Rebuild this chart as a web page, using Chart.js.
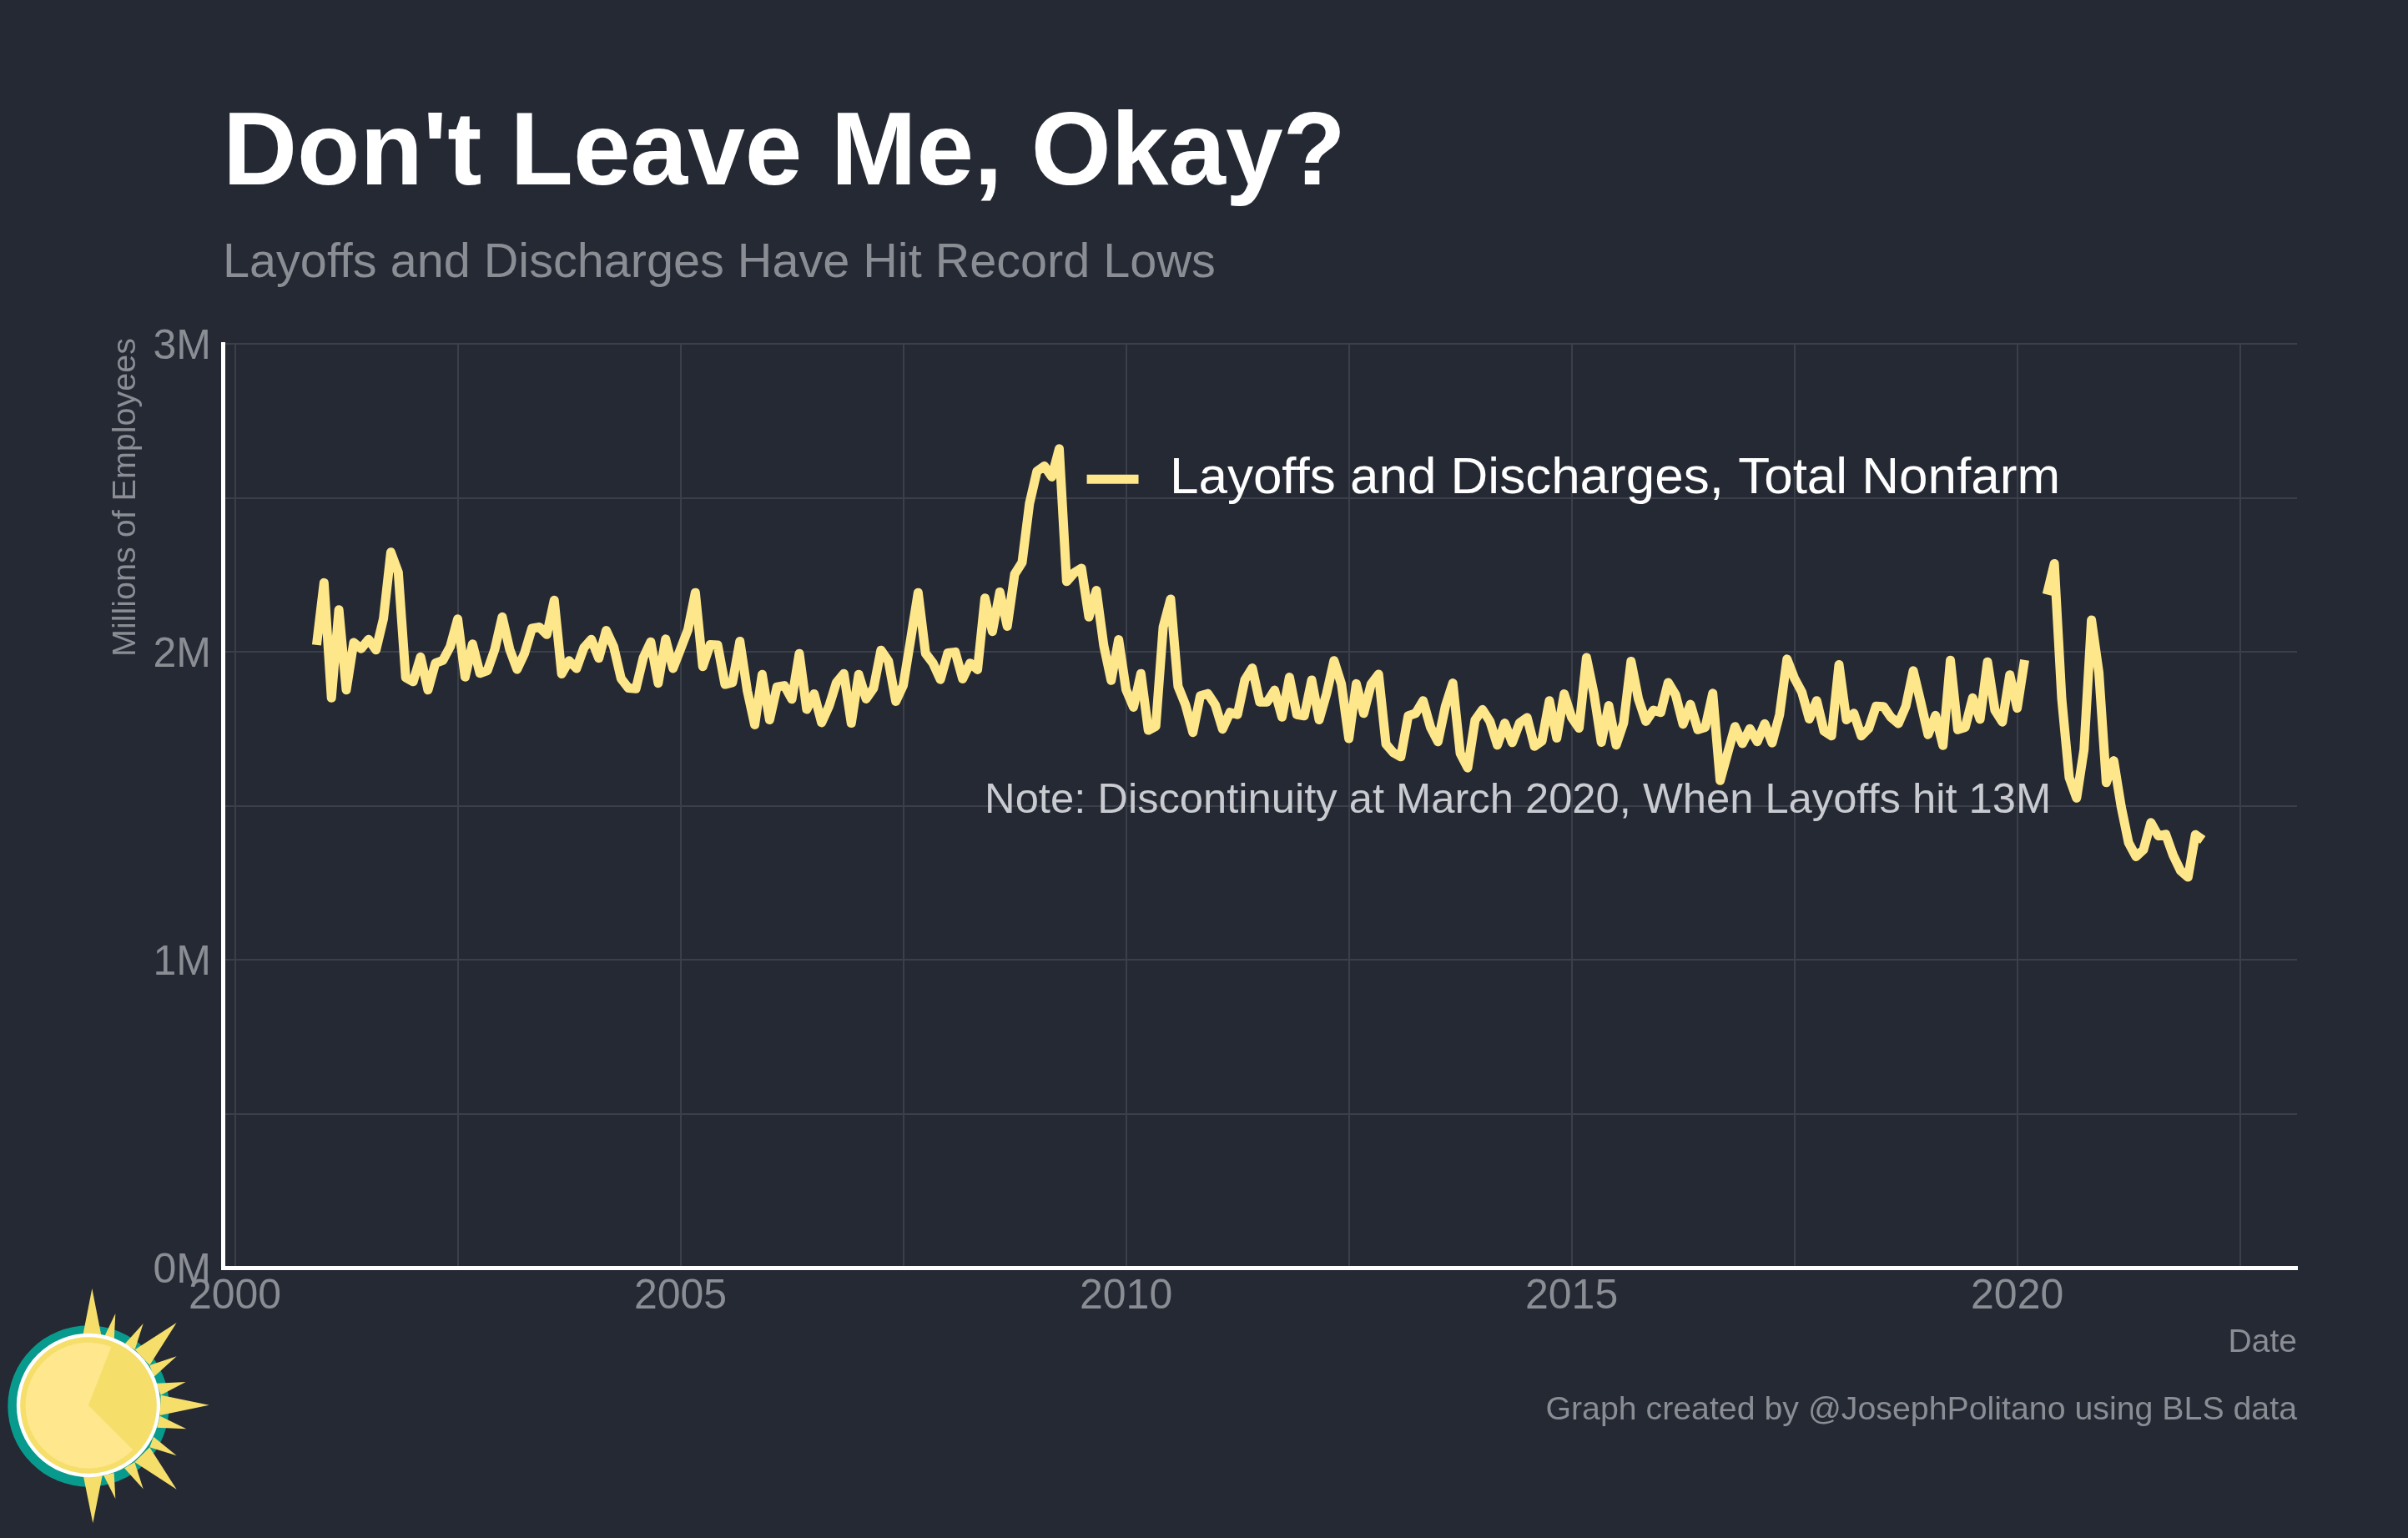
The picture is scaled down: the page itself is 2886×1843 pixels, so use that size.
<!DOCTYPE html>
<html><head><meta charset="utf-8">
<style>html,body{margin:0;padding:0;background:#242933;width:2886px;height:1843px;overflow:hidden}
#c{position:absolute;left:0;top:0}#sun{position:absolute;left:0;top:1480px}</style>
<script src="https://cdn.jsdelivr.net/npm/chart.js@4"></script></head><body>
<canvas id="c" width="2886" height="1843"></canvas>
<svg id="sun" width="400" height="363" viewBox="0 0 1200 1089" xmlns="http://www.w3.org/2000/svg">
<circle cx="318" cy="615" r="290" fill="#089B8D"/>
<g fill="#F5DE6A"><polygon points="331,192 297,365 365,365"/><polygon points="415,282 373,370 410,380"/><polygon points="515,318 448,392 485,412"/><polygon points="635,315 485,412 538,468"/><polygon points="635,436 538,468 553,510"/><polygon points="668,528 563,533 578,575"/><polygon points="752,611 578,575 575,648"/><polygon points="670,697 575,650 565,692"/><polygon points="635,793 552,725 538,763"/><polygon points="635,914 538,763 484,816"/><polygon points="515,913 484,816 447,838"/><polygon points="415,948 410,855 373,865"/><polygon points="334,1036 368,865 300,868"/></g>
<circle cx="318" cy="612" r="252" fill="#F5DE6A" stroke="#fff" stroke-width="13"/>
<path d="M318 612 L478 772 A226 226 0 1 1 400 402 Z" fill="#FEE78C"/>
</svg>
<script>
const startYear = 2000 + 11/12;
const layoffs = [
2.022,2.224,1.850,2.136,1.876,2.030,2.010,2.040,2.006,2.107,2.323,2.258,1.916,1.903,1.983,1.876,1.963,1.972,2.017,2.106,
1.918,2.025,1.930,1.939,2.008,2.113,2.008,1.943,1.995,2.076,2.080,2.056,2.167,1.928,1.971,1.946,2.013,2.040,1.979,2.069,
2.017,1.913,1.882,1.880,1.981,2.032,1.898,2.041,1.946,2.008,2.071,2.192,1.952,2.023,2.022,1.894,1.900,2.034,1.873,1.763,
1.926,1.779,1.886,1.890,1.846,1.994,1.813,1.863,1.770,1.823,1.900,1.929,1.768,1.926,1.847,1.882,2.005,1.970,1.839,1.891,
2.040,2.192,1.995,1.963,1.910,1.996,1.999,1.912,1.963,1.942,2.174,2.066,2.194,2.083,2.252,2.290,2.482,2.586,2.603,2.568,
2.659,2.228,2.256,2.271,2.113,2.199,2.020,1.907,2.039,1.877,1.820,1.929,1.745,1.758,2.080,2.171,1.888,1.828,1.738,1.857,
1.864,1.828,1.749,1.803,1.796,1.909,1.947,1.837,1.837,1.875,1.788,1.917,1.796,1.792,1.908,1.779,1.864,1.971,1.895,1.718,
1.896,1.800,1.895,1.927,1.700,1.672,1.659,1.792,1.800,1.841,1.755,1.708,1.823,1.898,1.670,1.623,1.778,1.812,1.774,1.697,
1.768,1.705,1.769,1.786,1.693,1.710,1.841,1.720,1.863,1.787,1.752,1.981,1.864,1.706,1.825,1.697,1.769,1.969,1.846,1.774,
1.810,1.803,1.900,1.860,1.765,1.829,1.747,1.755,1.865,1.582,1.670,1.757,1.702,1.750,1.708,1.766,1.704,1.796,1.976,1.914,
1.869,1.782,1.841,1.742,1.727,1.958,1.779,1.800,1.727,1.751,1.823,1.822,1.787,1.767,1.823,1.938,1.837,1.731,1.793,1.696,
1.972,1.747,1.755,1.850,1.781,1.967,1.810,1.772,1.925,1.817,1.973,null,null,2.186,2.286,1.846,1.592,1.525,1.683,2.103,
1.932,1.575,1.646,1.497,1.380,1.335,1.357,1.445,1.402,1.407,1.339,1.289,1.268,1.406,1.389];
const xTickValues = [2000,2002.5,2005,2007.5,2010,2012.5,2015,2017.5,2020,2022.5];
const yTickValues = [0,0.5,1,1.5,2,2.5,3];
const titleText = "Don't Leave Me, Okay?";
const subtitleText = "Layoffs and Discharges Have Hit Record Lows";
const seriesName = "Layoffs and Discharges, Total Nonfarm";
const noteText = "Note: Discontinuity at March 2020, When Layoffs hit 13M";
const captionText = "Graph created by @JosephPolitano using BLS data";
const yAxisTitle = "Millions of Employees";
const FONT = '"Liberation Sans", Arial, sans-serif';
const GREY = '#8b8d94', GRID='#3b3f49', LINE='#FEE68A';
const points = layoffs.map((v,k)=>({x:startYear+k/12,y:v}));

const overlay = {id:'overlay',afterDatasetsDraw(chart){
  const c=chart.ctx,x=chart.scales.x,y=chart.scales.y;
  c.save();
  const ly=y.getPixelForValue(2.56);
  c.strokeStyle=LINE;c.lineWidth=11;c.lineCap='butt';
  c.beginPath();c.moveTo(x.getPixelForValue(2009.56),ly);c.lineTo(x.getPixelForValue(2010.14),ly);c.stroke();
  c.fillStyle='#ffffff';c.font='62px '+FONT;c.textAlign='left';c.textBaseline='middle';
  c.fillText(seriesName,x.getPixelForValue(2010.49),ly);
  c.fillStyle='#c9cbd1';c.font='50.7px '+FONT;c.textAlign='right';
  c.fillText(noteText,x.getPixelForValue(2020.38),y.getPixelForValue(1.515));
  c.fillStyle=GREY;c.font='39.3px '+FONT;c.textAlign='right';
  c.fillText(captionText,x.right,1690);
  c.save();c.translate(151,405);c.rotate(-Math.PI/2);c.font='39.5px '+FONT;c.fillText(yAxisTitle,0,0);c.restore();
  c.restore();
}};
new Chart(document.getElementById('c'),{type:'line',
 data:{datasets:[{label:seriesName,data:points,borderColor:LINE,borderWidth:11,pointRadius:0,tension:0,spanGaps:false,borderJoinStyle:'round',borderCapStyle:'butt'}]},
 plugins:[overlay],
 options:{responsive:false,animation:false,devicePixelRatio:1,
  layout:{padding:{left:0,right:133,top:0,bottom:194}},
  plugins:{legend:{display:false},tooltip:{enabled:false},
   title:{display:true,text:titleText,align:'start',fullSize:false,color:'#fff',font:{family:FONT,size:123.4,weight:'bold',lineHeight:1},padding:{top:125,bottom:39}},
   subtitle:{display:true,text:subtitleText,align:'start',fullSize:false,color:GREY,font:{family:FONT,size:57.6,lineHeight:1},padding:{top:0,bottom:67}}},
  scales:{
   x:{type:'linear',min:1999.864,max:2023.14,afterBuildTicks(s){s.ticks=xTickValues.map(v=>({value:v}));},
     afterFit(s){s.height=130;},
     grid:{color:GRID,lineWidth:2,drawTicks:false},border:{color:'#fff',width:5},
     ticks:{color:GREY,font:{family:FONT,size:50},padding:5,maxRotation:0,autoSkip:false,callback(v){return v%5===0?String(v):'';}},
     title:{display:true,text:'Date',align:'end',color:GREY,font:{family:FONT,size:39},padding:{top:0,bottom:16}}},
   y:{min:0,max:3,afterBuildTicks(s){s.ticks=yTickValues.map(v=>({value:v}));},
     afterFit(s){s.width=267;},
     grid:{color:GRID,lineWidth:2,drawTicks:false},border:{color:'#fff',width:5},
     ticks:{color:GREY,font:{family:FONT,size:50},padding:14,labelOffset:4,callback(v){return Number.isInteger(v)?v+'M':'';}}}
  }}});
</script></body></html>
